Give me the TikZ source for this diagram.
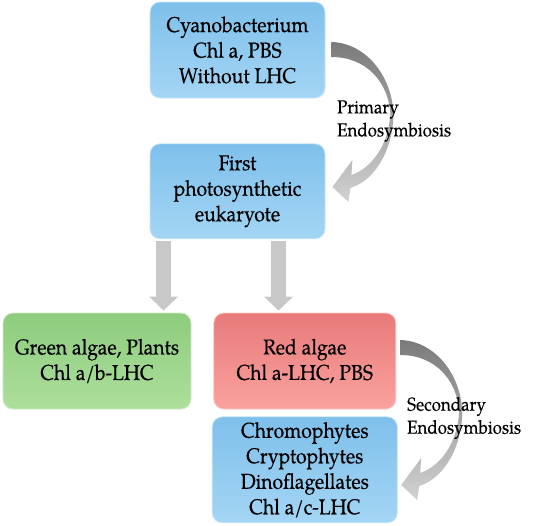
\documentclass[tikz,border=0pt]{standalone}
\usepackage{fontspec}
\setmainfont{TeX Gyre Pagella}[FakeStretch=0.9,FakeBold=0.35]
\usetikzlibrary{calc,positioning,arrows.meta}

\definecolor{bluetop}{RGB}{126,192,235}
\definecolor{bluebot}{RGB}{164,213,244}
\definecolor{greentop}{RGB}{142,204,126}
\definecolor{greenbot}{RGB}{172,223,155}
\definecolor{redtop}{RGB}{232,122,122}
\definecolor{redbot}{RGB}{250,162,158}
\definecolor{arrowgray}{RGB}{200,200,200}

\tikzset{
  box/.style={rounded corners=10pt,align=center,font=\fontsize{21.5}{25.5}\selectfont,inner sep=0pt},
  bluebox/.style={box,top color=bluetop,bottom color=bluebot,draw=bluebot!60!white,line width=0.8pt},
  greenbox/.style={box,top color=greentop,bottom color=greenbot,draw=greenbot!60!white,line width=0.8pt},
  redbox/.style={box,top color=redtop,bottom color=redbot,draw=redbot!60!white,line width=0.8pt},
  downarrow/.style={draw=arrowgray,line width=15pt,-{Triangle[width=28pt,length=14pt]},shorten >=2pt},
  endolabel/.style={anchor=west,align=left,font=\fontsize{18.8}{23}\selectfont,inner sep=0pt},
  endoarrow/.pic={
    \shade[top color=black!52,bottom color=black!18]
      (0,0) .. controls (35,1) and (61,35) .. (62,72)
      .. controls (62,105) and (45,138) .. (19,146)
      -- (17,160) -- (1,145) -- (21,118) -- (20,133)
      .. controls (40,126) and (57,104) .. (59,72)
      .. controls (57,40) and (35,15) .. (0,15) -- cycle;
  }
}

\begin{document}
\begin{tikzpicture}[x=1pt,y=-1pt]
\useasboundingbox (0,0) rectangle (540,525);

\node[bluebox,minimum width=175pt,minimum height=96pt] (cyano) at (237.5,50) {Cyanobacterium\\Chl a, PBS\\Without LHC};
\node[bluebox,minimum width=175pt,minimum height=95pt,below=45pt of cyano] (first) {First\\photosynthetic\\eukaryote};

\node[greenbox,minimum width=188pt,minimum height=96pt] (green) at (97,361) {Green algae, Plants\\Chl a/b-LHC};
\node[redbox,minimum width=182pt,minimum height=96pt,right=22pt of green] (red) {Red algae\\Chl a-LHC, PBS};
\node[bluebox,minimum width=185pt,minimum height=106pt,below=7pt of red] (chromo) {Chromophytes\\Cryptophytes\\Dinoflagellates\\Chl a/c-LHC};

% arrows down from the first eukaryote
\coordinate (lsrc) at ($(first.south west)+(14,2)$);
\coordinate (rsrc) at ($(first.south west)+(129,2)$);
\draw[downarrow] (lsrc) -- (lsrc |- green.north);
\draw[downarrow] (rsrc) -- (rsrc |- red.north);

% endosymbiosis arrows
\pic at ($(cyano.east)+(6,-8)$) {endoarrow};
\pic at ($(red.east)+(4,-21)$) {endoarrow};

\node[endolabel] (primary) at (337,121) {Primary\\Endosymbiosis};
\node[endolabel] (secondary) at (407,418) {Secondary\\Endosymbiosis};

\end{tikzpicture}
\end{document}
